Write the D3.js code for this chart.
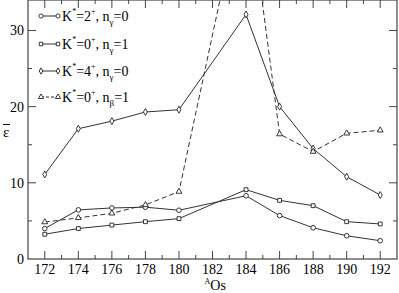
<!DOCTYPE html>
<meta charset="utf-8">
<style>
body { margin: 0; background: #fff; }
</style>
<script src="https://d3js.org/d3.v7.min.js"></script>
<div id="chart"></div>
<script>
// isotopes A of Os
var masses = [172, 174, 176, 178, 180, 184, 186, 188, 190, 192];

// epsilon-bar values for each band
var k2g0 = [4.0, 6.45, 6.7, 6.8, 6.4, 8.3, 5.7, 4.1, 3.05, 2.4];
var k0g1 = [3.25, 4.0, 4.45, 4.9, 5.3, 9.1, 7.7, 7.0, 4.9, 4.6];
var k4g0 = [11.1, 17.1, 18.1, 19.3, 19.6, 32.1, 20.0, 14.5, 10.8, 8.4];
var k0b1 = [4.85, 5.4, 6.0, 7.1, 8.85, 50, 16.4, 14.1, 16.5, 16.9];

var xTicks = [172, 174, 176, 178, 180, 182, 184, 186, 188, 190, 192];
var yTicks = [0, 10, 20, 30];

var margin = {top: 0, right: 2, bottom: 34, left: 28},
    width = 399 - margin.left - margin.right,
    height = 259 - margin.top;

var svg = d3.select("#chart")
  .append("svg")
    .attr("width", 399)
    .attr("height", 293)
    .attr("font-family", "'Liberation Serif', 'Times New Roman', 'DejaVu Serif', serif")
  .append("g")
    .attr("transform", "translate(" + margin.left + "," + margin.top + ")");

var x = d3.scaleLinear().domain([171, 193]).range([0, width]);
var y = d3.scaleLinear().domain([0, 34]).range([height, 0]);

svg.append("defs").append("clipPath").attr("id", "clip")
  .append("rect").attr("width", width).attr("height", height);

// frame
svg.append("rect")
  .attr("width", width).attr("height", height)
  .attr("fill", "none").attr("stroke", "#444").attr("stroke-width", 1.2);

var minorX = d3.range(173, 193, 2);
var minorY = [5, 15, 25];

// inward ticks on all four sides
function ticks(vals, len, side) {
  vals.forEach(function(v) {
    var l = svg.append("line").attr("stroke", "#444").attr("stroke-width", 1);
    if (side == "b") l.attr("x1", x(v)).attr("x2", x(v)).attr("y1", height).attr("y2", height - len);
    if (side == "t") l.attr("x1", x(v)).attr("x2", x(v)).attr("y1", 0).attr("y2", len);
    if (side == "l") l.attr("y1", y(v)).attr("y2", y(v)).attr("x1", 0).attr("x2", len);
    if (side == "r") l.attr("y1", y(v)).attr("y2", y(v)).attr("x1", width).attr("x2", width - len);
  });
}
ticks(xTicks, 8, "b"); ticks(xTicks, 8, "t");
ticks(minorX, 4, "b"); ticks(minorX, 4, "t");
ticks(yTicks.slice(1), 8, "l"); ticks(yTicks.slice(1), 8, "r");
ticks(minorY, 4, "l"); ticks(minorY, 4, "r");

svg.selectAll(".xl").data(xTicks).enter().append("text")
  .attr("x", function(d){ return x(d); })
  .attr("y", height + 15)
  .attr("text-anchor", "middle")
  .attr("font-size", 14)
  .text(function(d){ return d; });

svg.selectAll(".yl").data(yTicks).enter().append("text")
  .attr("x", -4)
  .attr("y", function(d){ return y(d) + 5; })
  .attr("text-anchor", "end")
  .attr("font-size", 14)
  .text(function(d){ return d; });

// axis titles
var xt = svg.append("text").attr("x", x(182) - 8).attr("y", height + 31).attr("font-size", 14);
xt.append("tspan").attr("font-size", 8).attr("dy", -6).text("A");
xt.append("tspan").attr("dy", 6).text("Os");

svg.append("text").attr("x", -25).attr("y", 137).attr("font-size", 15).text("\u03b5");
svg.append("line").attr("x1", -25).attr("x2", -18).attr("y1", 124.5).attr("y2", 124.5)
  .attr("stroke", "#000").attr("stroke-width", 1);

var series = [
  {vals: k2g0, sym: d3.symbolCircle, size: 17, dash: null, k: "2", sub: "\u03b3", n: "0"},
  {vals: k0g1, sym: d3.symbolSquare, size: 15, dash: null, k: "0", sub: "\u03b3", n: "1"},
  {vals: k4g0, sym: d3.symbolDiamond, size: 14, dash: null, k: "4", sub: "\u03b3", n: "0"},
  {vals: k0b1, sym: d3.symbolTriangle, size: 15, dash: "5,3", k: "0", sub: "\u03b2", n: "1"}
];

var line = d3.line()
  .x(function(d){ return x(d[0]); })
  .y(function(d){ return y(d[1]); });

var plot = svg.append("g").attr("clip-path", "url(#clip)");

series.forEach(function(s) {
  var pts = masses.map(function(m, i){ return [m, s.vals[i]]; });
  plot.append("path")
    .datum(pts)
    .attr("d", line)
    .attr("fill", "none")
    .attr("stroke", "#333")
    .attr("stroke-width", 1)
    .attr("stroke-dasharray", s.dash);
  plot.selectAll(null).data(pts).enter().append("path")
    .attr("d", d3.symbol().type(s.sym).size(s.size))
    .attr("transform", function(d){ return "translate(" + x(d[0]) + "," + y(d[1]) + ")"; })
    .attr("fill", "#fff")
    .attr("stroke", "#222")
    .attr("stroke-width", 0.9);
});

// legend
var legY = [16, 44, 71, 97];
series.forEach(function(s, i) {
  var g = svg.append("g").attr("transform", "translate(0," + legY[i] + ")");
  g.append("line").attr("x1", 13).attr("x2", 30).attr("y1", 0).attr("y2", 0)
    .attr("stroke", "#333").attr("stroke-width", 1).attr("stroke-dasharray", s.dash ? "3,2" : null);
  [13, 30].forEach(function(px) {
    g.append("path").attr("d", d3.symbol().type(s.sym).size(s.size * 0.8))
      .attr("transform", "translate(" + px + ",0)")
      .attr("fill", "#fff").attr("stroke", "#222").attr("stroke-width", 0.9);
  });
  var t = g.append("text").attr("x", 34).attr("y", 5).attr("font-size", 14);
  t.append("tspan").text("K");
  t.append("tspan").attr("font-size", 8).attr("dy", -7).text("*");
  t.append("tspan").attr("dy", 7).text("=" + s.k);
  t.append("tspan").attr("font-size", 8).attr("dy", -7).text("+");
  t.append("tspan").attr("dy", 7).text(", n");
  t.append("tspan").attr("font-size", 9).attr("dy", 4).text(s.sub);
  t.append("tspan").attr("dy", -4).text("=" + s.n);
});
</script>
